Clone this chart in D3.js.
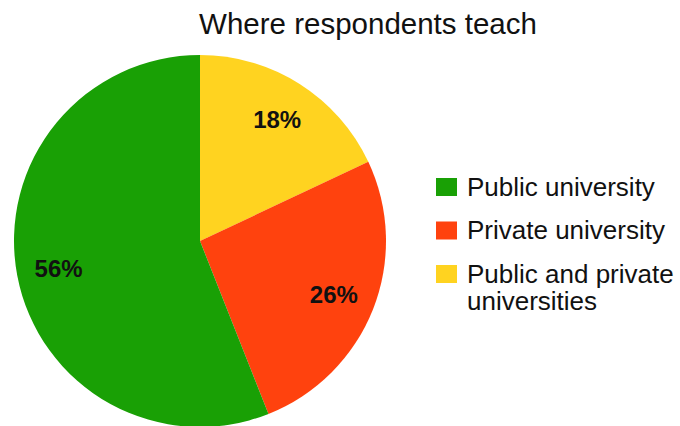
<!DOCTYPE html>
<html>
<head>
<meta charset="utf-8">
<script src="https://cdn.jsdelivr.net/npm/d3@7"></script>
<style>
  html, body { margin: 0; padding: 0; background: #fff; }
  svg { display: block; font-family: "Liberation Sans", Arial, sans-serif; }
</style>
</head>
<body>
<svg id="chart" width="680" height="426"></svg>
<script>
// Share of respondents by type of institution where they teach
const categories = ["Public and private universities", "Private university", "Public university"];
const shares = [18, 26, 56];
const colors = ["#ffd320", "#ff420e", "#19a005"];
const legendOrder = ["Public university", "Private university", "Public and private universities"];
const legendLines = {
  "Public university": ["Public university"],
  "Private university": ["Private university"],
  "Public and private universities": ["Public and private", "universities"]
};

const svg = d3.select("#chart");
const cx = 200, cy = 241, radius = 186;

const color = d3.scaleOrdinal().domain(categories).range(colors);

svg.append("text")
  .attr("x", 368).attr("y", 34)
  .attr("text-anchor", "middle")
  .attr("font-size", 29.5)
  .attr("fill", "#111")
  .text("Where respondents teach");

const pie = d3.pie().sort(null).value(d => d.value);
const data = pie(categories.map((c, i) => ({ name: c, value: shares[i] })));
const arc = d3.arc().innerRadius(0).outerRadius(radius);
const labelArc = d3.arc().innerRadius(144).outerRadius(144);

const g = svg.append("g").attr("transform", `translate(${cx},${cy})`);
g.selectAll("path").data(data).join("path")
  .attr("d", arc)
  .attr("fill", d => color(d.data.name));

g.selectAll("text.pct").data(data).join("text")
  .attr("class", "pct")
  .attr("transform", d => `translate(${labelArc.centroid(d)})`)
  .attr("text-anchor", "middle")
  .attr("dy", "0.36em")
  .attr("font-size", 24)
  .attr("font-weight", "bold")
  .attr("fill", "#111")
  .text(d => d.data.value + "%");

// Legend: one swatch per category, long names wrapped onto a second line
const legend = svg.append("g").attr("transform", "translate(436,178)");
const rows = legend.selectAll("g").data(legendOrder).join("g")
  .attr("transform", (d, i) => `translate(0,${i * 43.5})`);
rows.append("rect")
  .attr("width", 21).attr("height", 18)
  .attr("fill", d => color(d));
rows.each(function (d) {
  d3.select(this).selectAll("text").data(legendLines[d]).join("text")
    .attr("x", 31)
    .attr("y", (line, i) => 17.5 + i * 27)
    .attr("font-size", 26)
    .attr("fill", "#111")
    .text(line => line);
});
</script>
</body>
</html>
